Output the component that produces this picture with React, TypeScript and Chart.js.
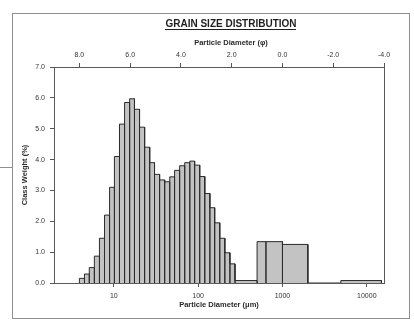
import React, { useEffect, useRef } from 'react';
import { Chart, registerables } from 'chart.js';

Chart.register(...registerables);

// ---- data ----
// Fine (laser) classes: bin edges in phi units, from fine to coarse
const fineBinEdgesPhi = [
  8.0, 7.8, 7.61, 7.41, 7.21, 7.01, 6.81, 6.62, 6.42, 6.22, 6.02, 5.83, 5.63, 5.43, 5.23, 5.04,
  4.84, 4.64, 4.44, 4.25, 4.05, 3.85, 3.65, 3.46, 3.26, 3.06, 2.86, 2.67, 2.47, 2.27, 2.07, 1.87,
];
const fineClassWeight = [
  0.15, 0.29, 0.5, 0.87, 1.45, 2.2, 3.1, 4.1, 5.15, 5.85, 5.97, 5.63, 5.05, 4.4, 3.9, 3.52,
  3.34, 3.28, 3.44, 3.65, 3.8, 3.9, 3.95, 3.82, 3.45, 2.9, 2.44, 1.95, 1.45, 0.98, 0.62,
];
// Coarse (sieve) classes
const coarseBinEdgesPhi = [1.87, 1.0, 0.65, 0.0, -1.0, -2.3, -3.9];
const coarseClassWeight = [0.08, 1.34, 1.34, 1.25, 0, 0.08];

const phiTicks = [8, 6, 4, 2, 0, -2, -4];
const micronTicks = [10, 100, 1000, 10000];
const classWeightTicks = [0, 1, 2, 3, 4, 5, 6, 7];
const phiMin = -4;
const phiMax = 9;

const titleText = 'GRAIN SIZE DISTRIBUTION';
const topAxisTitle = 'Particle Diameter (\u03c6)';
const bottomAxisTitle = 'Particle Diameter (\u03bcm)';
const yAxisTitle = 'Class Weight (%)';

const FONT = '"Liberation Sans", Arial, Helvetica, sans-serif';

const decor = {
  id: 'decor',
  beforeDraw(chart: any) {
    const { ctx, width, height } = chart;
    ctx.save();
    ctx.fillStyle = '#ffffff';
    ctx.fillRect(0, 0, width, height);
    ctx.restore();
  },
  afterDraw(chart: any) {
    const { ctx, chartArea: a } = chart;
    ctx.save();
    // plot frame
    ctx.strokeStyle = '#5a5a5a';
    ctx.lineWidth = 1;
    const l = Math.round(a.left) + 0.5;
    const t = Math.round(a.top) + 0.5;
    const r = Math.round(a.right) + 0.5;
    const b = Math.round(a.bottom) + 0.5;
    ctx.strokeRect(l, t, r - l, b - t);
    // outer box
    ctx.strokeStyle = '#8e8e8e';
    ctx.strokeRect(12.5, 13.5, 397, 305);
    // small stray line at left
    ctx.beginPath();
    ctx.moveTo(0, 167.5);
    ctx.lineTo(12, 167.5);
    ctx.stroke();
    // title
    ctx.fillStyle = '#1e1e1e';
    ctx.font = 'bold 10px ' + FONT;
    ctx.textAlign = 'center';
    ctx.textBaseline = 'middle';
    const cx = 231;
    ctx.fillText(titleText, cx, 24.5);
    const w = ctx.measureText(titleText).width;
    ctx.fillRect(Math.round(cx - w / 2), 29, Math.round(w), 1);
    // top axis title
    ctx.font = 'bold 7.5px ' + FONT;
    ctx.fillStyle = '#2a2a2a';
    ctx.fillText(topAxisTitle, cx, 43);
    ctx.restore();
  },
};

export default function App() {
  const ref = useRef<HTMLCanvasElement>(null);

  useEffect(() => {
    const canvas = ref.current;
    if (!canvas) return;
    const points: { x: number; y: number }[] = [];
    const addBins = (edges: number[], values: number[]) => {
      for (let i = 0; i < values.length; i++) {
        const x0 = edges[i];
        const x1 = edges[i + 1];
        const h = values[i];
        points.push({ x: x0, y: 0 }, { x: x0, y: h }, { x: x1, y: h }, { x: x1, y: 0 });
      }
    };
    addBins(fineBinEdgesPhi, fineClassWeight);
    addBins(coarseBinEdgesPhi, coarseClassWeight);

    const tickFont = { family: FONT, size: 7 };
    const titleFont = { family: FONT, size: 7.5, weight: 'bold' as const };
    const gridOpts = {
      display: true,
      drawOnChartArea: false,
      drawTicks: true,
      tickLength: 4,
      color: '#555555',
      lineWidth: 1,
    };

    const chart = new Chart(canvas, {
      type: 'line',
      data: {
        datasets: [
          {
            data: points,
            xAxisID: 'phi',
            yAxisID: 'y',
            borderColor: '#2b2b2b',
            borderWidth: 1,
            backgroundColor: '#c3c3c3',
            fill: 'origin',
            pointRadius: 0,
            pointHoverRadius: 0,
            tension: 0,
          },
        ],
      },
      options: {
        responsive: false,
        animation: false,
        devicePixelRatio: 1,
        layout: { padding: { left: 20, top: 38, right: 30, bottom: 18 } },
        plugins: {
          legend: { display: false },
          tooltip: { enabled: false },
          title: { display: false },
        },
        scales: {
          x: {
            type: 'logarithmic',
            position: 'bottom',
            min: 1000 * Math.pow(2, -phiMax),
            max: 1000 * Math.pow(2, -phiMin),
            afterBuildTicks: (s: any) => {
              s.ticks = micronTicks.map((v) => ({ value: v }));
            },
            afterFit: (s: any) => {
              s.height = 26;
            },
            grid: gridOpts,
            border: { display: false },
            ticks: {
              font: tickFont,
              color: '#333333',
              padding: 5,
              maxRotation: 0,
              autoSkip: false,
              callback: (v: any) => String(v),
            },
            title: {
              display: true,
              text: bottomAxisTitle,
              font: titleFont,
              color: '#2a2a2a',
              padding: 0,
            },
          },
          phi: {
            type: 'linear',
            position: 'top',
            min: phiMin,
            max: phiMax,
            reverse: true,
            afterBuildTicks: (s: any) => {
              s.ticks = phiTicks.map((v) => ({ value: v }));
            },
            afterFit: (s: any) => {
              s.height = 29;
            },
            grid: gridOpts,
            border: { display: false },
            ticks: {
              font: tickFont,
              color: '#333333',
              padding: 4,
              maxRotation: 0,
              autoSkip: false,
              callback: (v: any) => Number(v).toFixed(1),
            },
          },
          y: {
            type: 'linear',
            position: 'left',
            min: 0,
            max: 7,
            afterBuildTicks: (s: any) => {
              s.ticks = classWeightTicks.map((v) => ({ value: v }));
            },
            afterFit: (s: any) => {
              s.width = 34;
            },
            grid: gridOpts,
            border: { display: false },
            ticks: {
              font: tickFont,
              color: '#333333',
              padding: 5,
              autoSkip: false,
              callback: (v: any) => Number(v).toFixed(1),
            },
            title: {
              display: true,
              text: yAxisTitle,
              font: titleFont,
              color: '#2a2a2a',
              padding: 0,
            },
          },
        },
      },
      plugins: [decor],
    } as any);

    return () => chart.destroy();
  }, []);

  return (
    <div style={{ position: 'absolute', left: 0, top: 0, width: 414, height: 327, background: '#fff' }}>
      <canvas ref={ref} width={414} height={327} style={{ display: 'block', width: 414, height: 327 }} />
    </div>
  );
}
